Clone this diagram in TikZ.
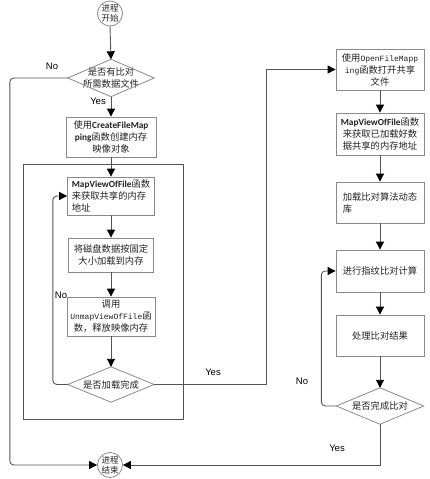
\documentclass[tikz,border=0pt]{standalone}
\usepackage{fontspec}
\setmainfont{Noto Sans CJK SC}
\newfontfamily\latb{Carlito}
\newfontfamily\monof{Liberation Mono}
\newfontfamily\labf{Liberation Sans}
\newcommand\lb[1]{{\latb\bfseries #1}}
\newcommand\mn[1]{{\monof\fontsize{8}{12}\selectfont #1}}
\usetikzlibrary{arrows.meta}
\definecolor{boxgray}{HTML}{8A8A8A}
\definecolor{linegray}{HTML}{555555}
\definecolor{txt}{HTML}{222222}
\begin{document}
\begin{tikzpicture}[x=1pt,y=-1pt,
  box/.style={draw=boxgray, line width=0.8pt, minimum width=88pt, minimum height=40pt,
    inner sep=1pt, font=\fontsize{9.3}{12}\selectfont, text=txt, align=center},
  dia/.style={minimum width=86pt, minimum height=37pt, inner sep=0pt,
    font=\fontsize{9.3}{12}\selectfont, text=txt, align=center},
  diadraw/.style={draw=boxgray, line width=0.8pt},
  term/.style={circle, draw=boxgray, line width=0.8pt, minimum size=25pt, inner sep=0pt,
    font=\fontsize{8.5}{10}\selectfont, text=txt, align=center},
  conn/.style={draw=linegray, line width=0.9pt},
  arr/.style={conn, -{Triangle[length=8pt,width=8pt,color=black]}},
  lab/.style={font=\labf\fontsize{9.5}{11}\selectfont, text=black, inner sep=0pt},
  frame/.style={draw=linegray, line width=0.9pt}
]
\useasboundingbox (0,0) rectangle (430,479);

% left column
\node[term] (s) at (110,13.5) {进程\\开始};
\node[dia] (d1) at (111,78) {是否有比对\\所需数据文件};
\draw[diadraw] (d1.north) -- (d1.east) -- (d1.south) -- (d1.west) -- cycle;
\node[box, minimum height=40pt, minimum width=90pt] (b1) at (111,137) {使用\lb{CreateFileMap}\\\lb{ping}函数创建内存\\映像对象};
\draw[frame] (23,164) rectangle (183,419);
\node[box, minimum height=38pt, minimum width=87pt, align=left] (b2) at (111,196) {\lb{MapViewOfFile}函数\\来获取共享的内存\\地址};
\node[box, minimum height=34pt, minimum width=85pt] (b3) at (111,255) {将磁盘数据按固定\\大小加载到内存};
\node[box, minimum height=39pt, minimum width=88pt] (b4) at (111,316.5) {调用\\\mn{UnmapViewOfFile}函\\数，释放映像内存};
\node[dia, minimum height=35pt] (d2) at (111,384.5) {是否加载完成};
\draw[diadraw] (d2.north) -- (d2.east) -- (d2.south) -- (d2.west) -- cycle;
\node[term] (e) at (110,465) {进程\\结束};

% right column
\node[box, minimum height=41pt] (r1) at (380,69.5) {使用\mn{OpenFileMapp}\\\mn{ing}函数打开共享\\文件};
\node[box, minimum height=42pt] (r2) at (380,134) {\lb{MapViewOfFile}函数\\来获取已加载好数\\据共享的内存地址};
\node[box, minimum height=41pt, align=left] (r3) at (380,202.5) {加载比对算法动态\\库};
\node[box, minimum height=42pt] (r4) at (380,271) {进行指纹比对计算};
\node[box, minimum height=41pt] (r5) at (380,335.5) {处理比对结果};
\node[dia, minimum width=87pt, minimum height=36pt] (d3) at (380,406) {是否完成比对};
\draw[diadraw] (d3.north) -- (d3.east) -- (d3.south) -- (d3.west) -- cycle;

% connectors
\draw[arr] (s.south) -- (d1.north);
\draw[arr] (d1.south) -- (b1.north);
\draw[arr] (b1.south) -- (b2.north);
\draw[arr] (b2.south) -- (b3.north);
\draw[arr] (b3.south) -- (b4.north);
\draw[arr] (b4.south) -- (d2.north);
\draw[arr, rounded corners=4pt] (d1.west) -- ++(-58,0) |- (e.west);
\draw[arr, rounded corners=4pt] (d2.west) -- ++(-15,0) |- (b2.west);
\draw[arr] (d2.east) -- ++(112,0) |- (r1.west);
\draw[arr] (r1.south) -- (r2.north);
\draw[arr] (r2.south) -- (r3.north);
\draw[arr] (r3.south) -- (r4.north);
\draw[arr] (r4.south) -- (r5.north);
\draw[arr] (r5.south) -- (d3.north);
\draw[arr, rounded corners=4pt] (d3.west) -- ++(-15,0) |- (r4.west);
\draw[arr] (d3.south) |- (e.east);

% labels
\node[lab] (l1) at (52,66) {No};
\node[lab] (l2) at (98,101) {Yes};
\node[lab] (l3) at (61,295) {No};
\node[lab] (l4) at (213,372) {Yes};
\node[lab] (l5) at (302,381) {No};
\node[lab] (l6) at (337,448) {Yes};
\end{tikzpicture}
\end{document}
